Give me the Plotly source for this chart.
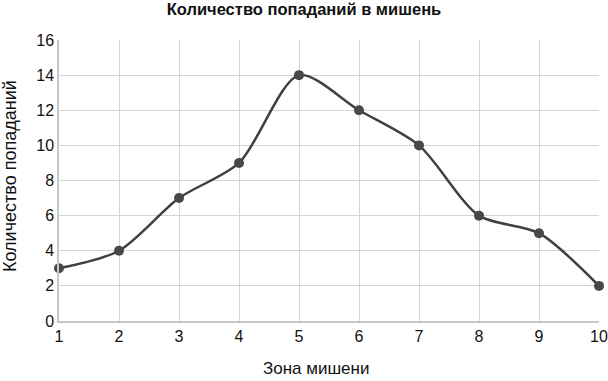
import plotly.graph_objects as go

zones = [1, 2, 3, 4, 5, 6, 7, 8, 9, 10]
hits = [3, 4, 7, 9, 14, 12, 10, 6, 5, 2]
title_text = "Количество попаданий в мишень"
x_title = "Зона мишени"
y_title = "Количество попаданий"

fig = go.Figure()
fig.add_trace(go.Scatter(
    x=zones, y=hits, mode="lines+markers",
    line=dict(color="#404040", width=2.5, shape="spline", smoothing=0.8),
    marker=dict(color="#484848", size=10),
    showlegend=False, cliponaxis=False,
))

font = "Liberation Sans, Arial, sans-serif"
L, R, T, B = 59, 9, 40, 60
W, H = 608, 381
pw, ph = W - L - R, H - T - B

fig.update_layout(
    width=W, height=H,
    margin=dict(l=L, r=R, t=T, b=B, autoexpand=False),
    paper_bgcolor="white", plot_bgcolor="white",
    font=dict(family=font, size=16, color="#111"),
    title=dict(text="<b>" + title_text + "</b>", x=0.5, xanchor="center",
               y=1 - 9 / H, yanchor="middle", font=dict(size=16.5, color="#111")),
    xaxis=dict(range=[1, 10], tickmode="array", tickvals=zones,
               showgrid=True, gridcolor="#d4d4d4", gridwidth=1,
               showline=True, linecolor="#c8c8c8", linewidth=1.5,
               zeroline=False, ticks="", ticklen=0, automargin=False,
               tickfont=dict(size=16)),
    yaxis=dict(range=[0, 16], tickmode="array", tickvals=list(range(0, 17, 2)),
               showgrid=True, gridcolor="#d4d4d4", gridwidth=1,
               showline=True, linecolor="#c8c8c8", linewidth=1.5,
               zeroline=False, ticks="", automargin=False,
               tickfont=dict(size=16)),
    annotations=[
        dict(text=x_title, xref="paper", yref="paper",
             x=(316 - L) / pw, y=(H - B - 379) / ph,
             xanchor="center", yanchor="bottom", showarrow=False,
             borderpad=0,
             font=dict(size=17, color="#111")),
        dict(text=y_title, xref="paper", yref="paper",
             x=(10 - L) / pw, y=(H - B - 176) / ph, textangle=-90,
             xanchor="center", yanchor="middle", showarrow=False,
             font=dict(size=18, color="#111")),
    ],
)
fig.write_html("out.html", config={"displayModeBar": False},
               post_script="document.body.style.margin='0';document.body.style.overflow='hidden';")
